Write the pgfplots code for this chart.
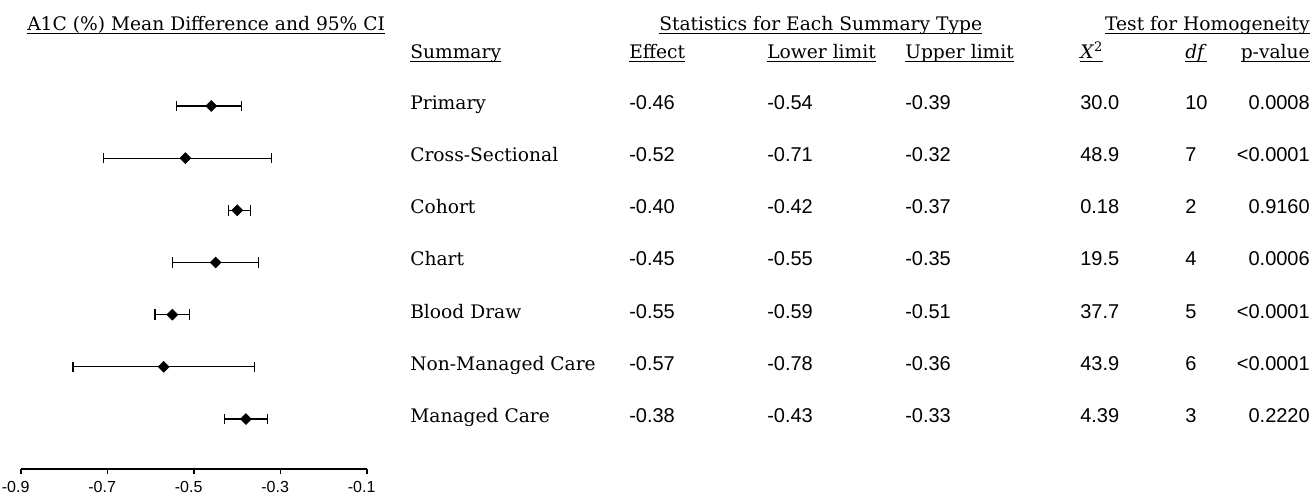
\documentclass[border=0pt]{standalone}
\usepackage{pgfplots}
\pgfplotsset{compat=1.18}
\usepackage{fontspec}
\setmainfont{DejaVu Serif}
\newfontfamily\numfont{Liberation Sans}
\newcommand\ul[1]{\setbox0\hbox{#1}\rlap{\rule[-2.6pt]{\wd0}{0.7pt}}\box0}
\newcommand\lab{\fontsize{14}{16}\selectfont}
\newcommand\num{\numfont\fontsize{15}{17}\selectfont}
\begin{document}
\begin{tikzpicture}
\begin{axis}[
  at={(0,0)}, anchor=south west,
  scale only axis, width=259.5pt, height=311.4pt,
  xmin=-0.9, xmax=-0.1, ymin=0, ymax=7.958, y dir=reverse,
  axis x line*=bottom, axis y line=none,
  xtick={-0.9,-0.7,-0.5,-0.3,-0.1}, ytick=\empty,
  tick align=outside, major tick length=4pt,
  tick style={black, line width=0.8pt},
  axis line style={black, line width=0.8pt},
  /pgf/number format/assume math mode=true,
  xticklabel={\pgfmathprintnumber[fixed,fixed zerofill,precision=1]{\tick}},
  xticklabel style={font=\numfont\fontsize{12}{14}\selectfont, anchor=north, xshift=-4pt, yshift=-2pt},
  clip=false,
]
\addplot[only marks, black, mark=square*, mark size=2.9pt, mark options={rotate=45},
  error bars/.cd, x dir=both, x explicit, error mark=|,
  error bar style={line width=0.9pt, black},
  error mark options={black, line width=0.9pt, mark size=4pt, rotate=0}]
coordinates {
  (-0.46,1) += (0.07,0) -= (0.08,0)
  (-0.52,2) += (0.20,0) -= (0.19,0)
  (-0.40,3) += (0.03,0) -= (0.02,0)
  (-0.45,4) += (0.10,0) -= (0.10,0)
  (-0.55,5) += (0.04,0) -= (0.04,0)
  (-0.57,6) += (0.21,0) -= (0.21,0)
  (-0.38,7) += (0.05,0) -= (0.05,0)
};
\end{axis}
\begin{scope}[x=0.75pt,y=-0.75pt,shift={(-15.75pt,351.75pt)},
  every node/.style={inner sep=0pt, anchor=mid west}]
\node at (27,27) {\lab\ul{A1C (\%) Mean Difference and 95\% CI}};
\node at (659,27) {\lab\ul{Statistics for Each Summary Type}};
\node[anchor=mid east] at (1310,27) {\lab\ul{Test for Homogeneity}};
\node at (410,55) {\lab\ul{Summary}};
\node at (629,55) {\lab\ul{Effect}};
\node at (767,55) {\lab\ul{Lower limit}};
\node at (905,55) {\lab\ul{Upper limit}};
\node at (1080,55) {\lab\ul{\textit{X}\textsuperscript{2}}};
\node at (1185,55) {\lab\ul{\textit{df}}};
\node[anchor=mid east] at (1310,55) {\lab\ul{p-value}};
\foreach \r/\name/\ef/\lo/\hi/\chi/\df/\p in {
  1/Primary/-0.46/-0.54/-0.39/30.0/10/0.0008,
  2/Cross-Sectional/-0.52/-0.71/-0.32/48.9/7/<0.0001,
  3/Cohort/-0.40/-0.42/-0.37/0.18/2/0.9160,
  4/Chart/-0.45/-0.55/-0.35/19.5/4/0.0006,
  5/Blood Draw/-0.55/-0.59/-0.51/37.7/5/<0.0001,
  6/Non-Managed Care/-0.57/-0.78/-0.36/43.9/6/<0.0001,
  7/Managed Care/-0.38/-0.43/-0.33/4.39/3/0.2220}{
  \pgfmathsetmacro\yy{106+52.17*(\r-1)}
  \node at (410,\yy) {\lab\name};
  \node at (629,\yy) {\num\ef};
  \node at (767,\yy) {\num\lo};
  \node at (905,\yy) {\num\hi};
  \node at (1080,\yy) {\num\chi};
  \node at (1185,\yy) {\num\df};
  \node[anchor=mid east] at (1310,\yy) {\num\p};
}
\pgfresetboundingbox
\path[use as bounding box] (0,0) rectangle (1314,498);
\end{scope}
\end{tikzpicture}
\end{document}
